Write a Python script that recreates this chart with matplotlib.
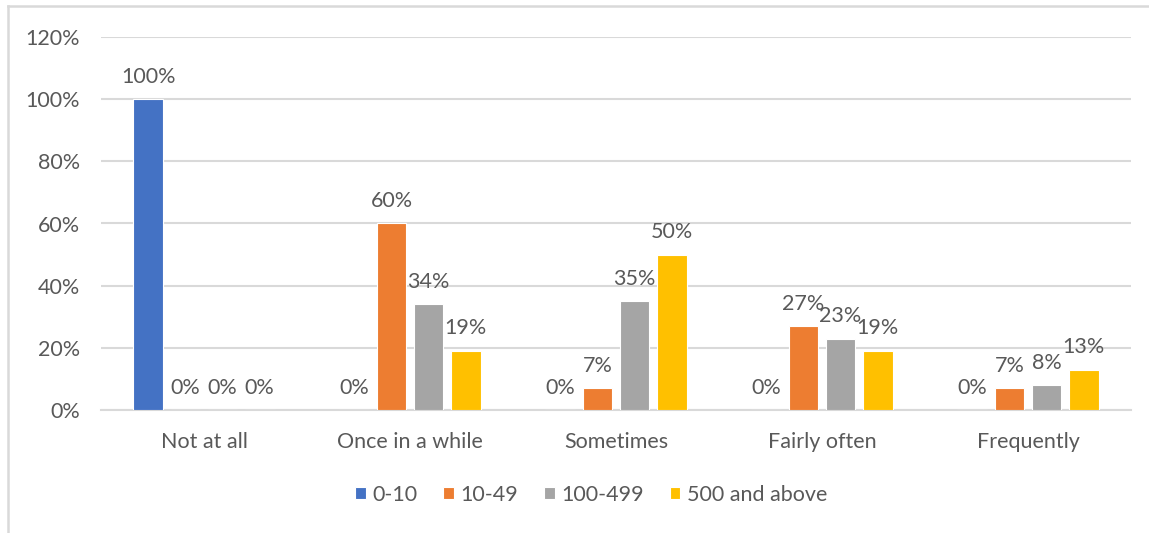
import matplotlib
matplotlib.use("Agg")
import matplotlib.pyplot as plt
from matplotlib.lines import Line2D
import numpy as np

plt.rcParams['font.family'] = ['Lato', 'DejaVu Sans']

categories = ["Not at all", "Once in a while", "Sometimes", "Fairly often", "Frequently"]
series_names = ["0-10", "10-49", "100-499", "500 and above"]
series_values = [
    [1.00, 0.00, 0.00, 0.00, 0.00],   # 0-10
    [0.00, 0.60, 0.07, 0.27, 0.07],   # 10-49
    [0.00, 0.34, 0.35, 0.23, 0.08],   # 100-499
    [0.00, 0.19, 0.50, 0.19, 0.13],   # 500 and above
]
colors = ["#4472C4", "#ED7D31", "#A5A5A5", "#FFC000"]
y_ticks = [0.0, 0.2, 0.4, 0.6, 0.8, 1.0, 1.2]

TEXT = "#595959"
GRID = "#D9D9D9"
W, H = 1149, 533
FS = 15.5

fig = plt.figure(figsize=(W / 100, H / 100), dpi=100)
ax = fig.add_axes([101 / W, (H - 410) / H, (1131 - 101) / W, (410 - 37) / H])

x = np.arange(len(categories))
pitch = 0.18
width = 0.145
for i, (name, vals, c) in enumerate(zip(series_names, series_values, colors)):
    pos = x + (i - 1.5) * pitch
    bars = ax.bar(pos, vals, width, color=c, edgecolor="white", linewidth=0.8,
                  label=name, zorder=3)
    for b, v in zip(bars, vals):
        ax.annotate(f"{v:.0%}", (b.get_x() + b.get_width() / 2, v),
                    xytext=(0, 9), textcoords="offset points",
                    ha="center", va="bottom", fontsize=FS, color=TEXT)

ax.set_xlim(-0.5, len(categories) - 0.5)
ax.set_ylim(0, 1.2)
ax.set_yticks(y_ticks)
ax.set_yticklabels([f"{t:.0%}" for t in y_ticks])
ax.set_xticks(x)
ax.set_xticklabels(categories)
ax.tick_params(axis="y", length=0, pad=15, labelsize=FS, labelcolor=TEXT)
ax.tick_params(axis="x", length=0, pad=16, labelsize=FS, labelcolor=TEXT)
ax.grid(axis="y", color=GRID, linewidth=1.5, zorder=0)
for s in ["top", "right", "left"]:
    ax.spines[s].set_visible(False)
ax.spines["bottom"].set_color(GRID)
ax.spines["bottom"].set_linewidth(1.5)

handles, labels = ax.get_legend_handles_labels()
fig.legend(handles, labels, loc="center", bbox_to_anchor=(591 / W, 1 - 495 / H),
           ncol=4, frameon=False, fontsize=FS, labelcolor=TEXT,
           handlelength=0.5, handleheight=0.5, handletextpad=0.3,
           columnspacing=1.2)

# light frame on the top and left edges
fig.add_artist(Line2D([8 / W, 8 / W], [0, 1 - 6 / H], transform=fig.transFigure,
                      color=GRID, linewidth=1.8))
fig.add_artist(Line2D([8 / W, 1], [1 - 6 / H, 1 - 6 / H], transform=fig.transFigure,
                      color=GRID, linewidth=1.8))

fig.savefig("out.png", dpi=100, facecolor="white")
